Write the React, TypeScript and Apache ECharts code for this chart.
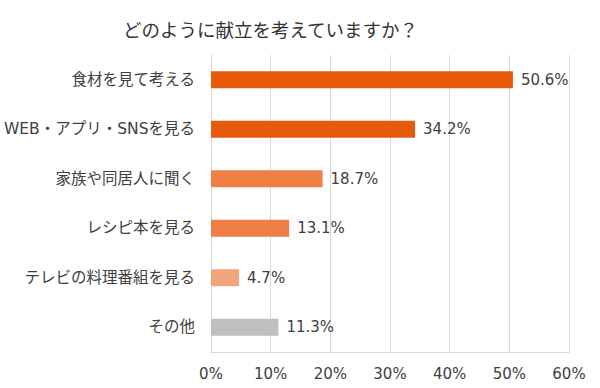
import React, { useEffect, useRef } from "react";
import * as echarts from "echarts";

const categories = [
  "食材を見て考える",
  "WEB・アプリ・SNSを見る",
  "家族や同居人に聞く",
  "レシピ本を見る",
  "テレビの料理番組を見る",
  "その他",
];
const values = [50.6, 34.2, 18.7, 13.1, 4.7, 11.3];
const barColors = ["#E65A0B", "#E65A0B", "#EE7F45", "#EE7F45", "#F4A47B", "#BFBFBF"];
const titleText = "どのように献立を考えていますか？";

const FONT = "'DejaVu Sans', 'Noto Sans CJK JP', sans-serif";

export default function App() {
  const ref = useRef<HTMLDivElement>(null);
  useEffect(() => {
    if (!ref.current) return;
    const chart = echarts.init(ref.current, null, { renderer: "svg" });
    chart.setOption({
      animation: false,
      backgroundColor: "#ffffff",
      title: {
        text: titleText,
        left: 118,
        top: 15,
        textStyle: { fontFamily: "'Noto Sans CJK JP', sans-serif", fontSize: 18.5, fontWeight: "normal", color: "#333333" },
      },
      grid: { left: 211, right: 31, top: 55, bottom: 36, containLabel: false },
      xAxis: {
        type: "value",
        min: 0,
        max: 60,
        interval: 10,
        axisLine: { show: true, lineStyle: { color: "#D9D9D9", width: 1 } },
        axisTick: { show: false },
        splitLine: { show: true, lineStyle: { color: "#D9D9D9", width: 1 } },
        axisLabel: {
          formatter: "{value}%",
          fontFamily: FONT,
          fontSize: 15,
          color: "#404040",
          margin: 14,
        },
      },
      yAxis: {
        type: "category",
        data: categories,
        inverse: true,
        axisLine: { show: true, lineStyle: { color: "#D9D9D9", width: 1 } },
        axisTick: { show: false },
        axisLabel: {
          fontFamily: FONT,
          fontSize: 15.5,
          color: "#404040",
          margin: 16,
        },
      },
      series: [
        {
          type: "bar",
          data: values.map((v, i) => ({ value: v, itemStyle: { color: barColors[i] } })),
          barWidth: 17,
          label: {
            show: true,
            position: "right",
            distance: 8,
            formatter: (p: any) => p.value.toFixed(1) + "%",
            fontFamily: FONT,
            fontSize: 15,
            color: "#404040",
          },
        },
      ],
    });
    return () => chart.dispose();
  }, []);
  return <div ref={ref} style={{ width: 600, height: 388, position: "absolute", left: 0, top: 0 }} />;
}
